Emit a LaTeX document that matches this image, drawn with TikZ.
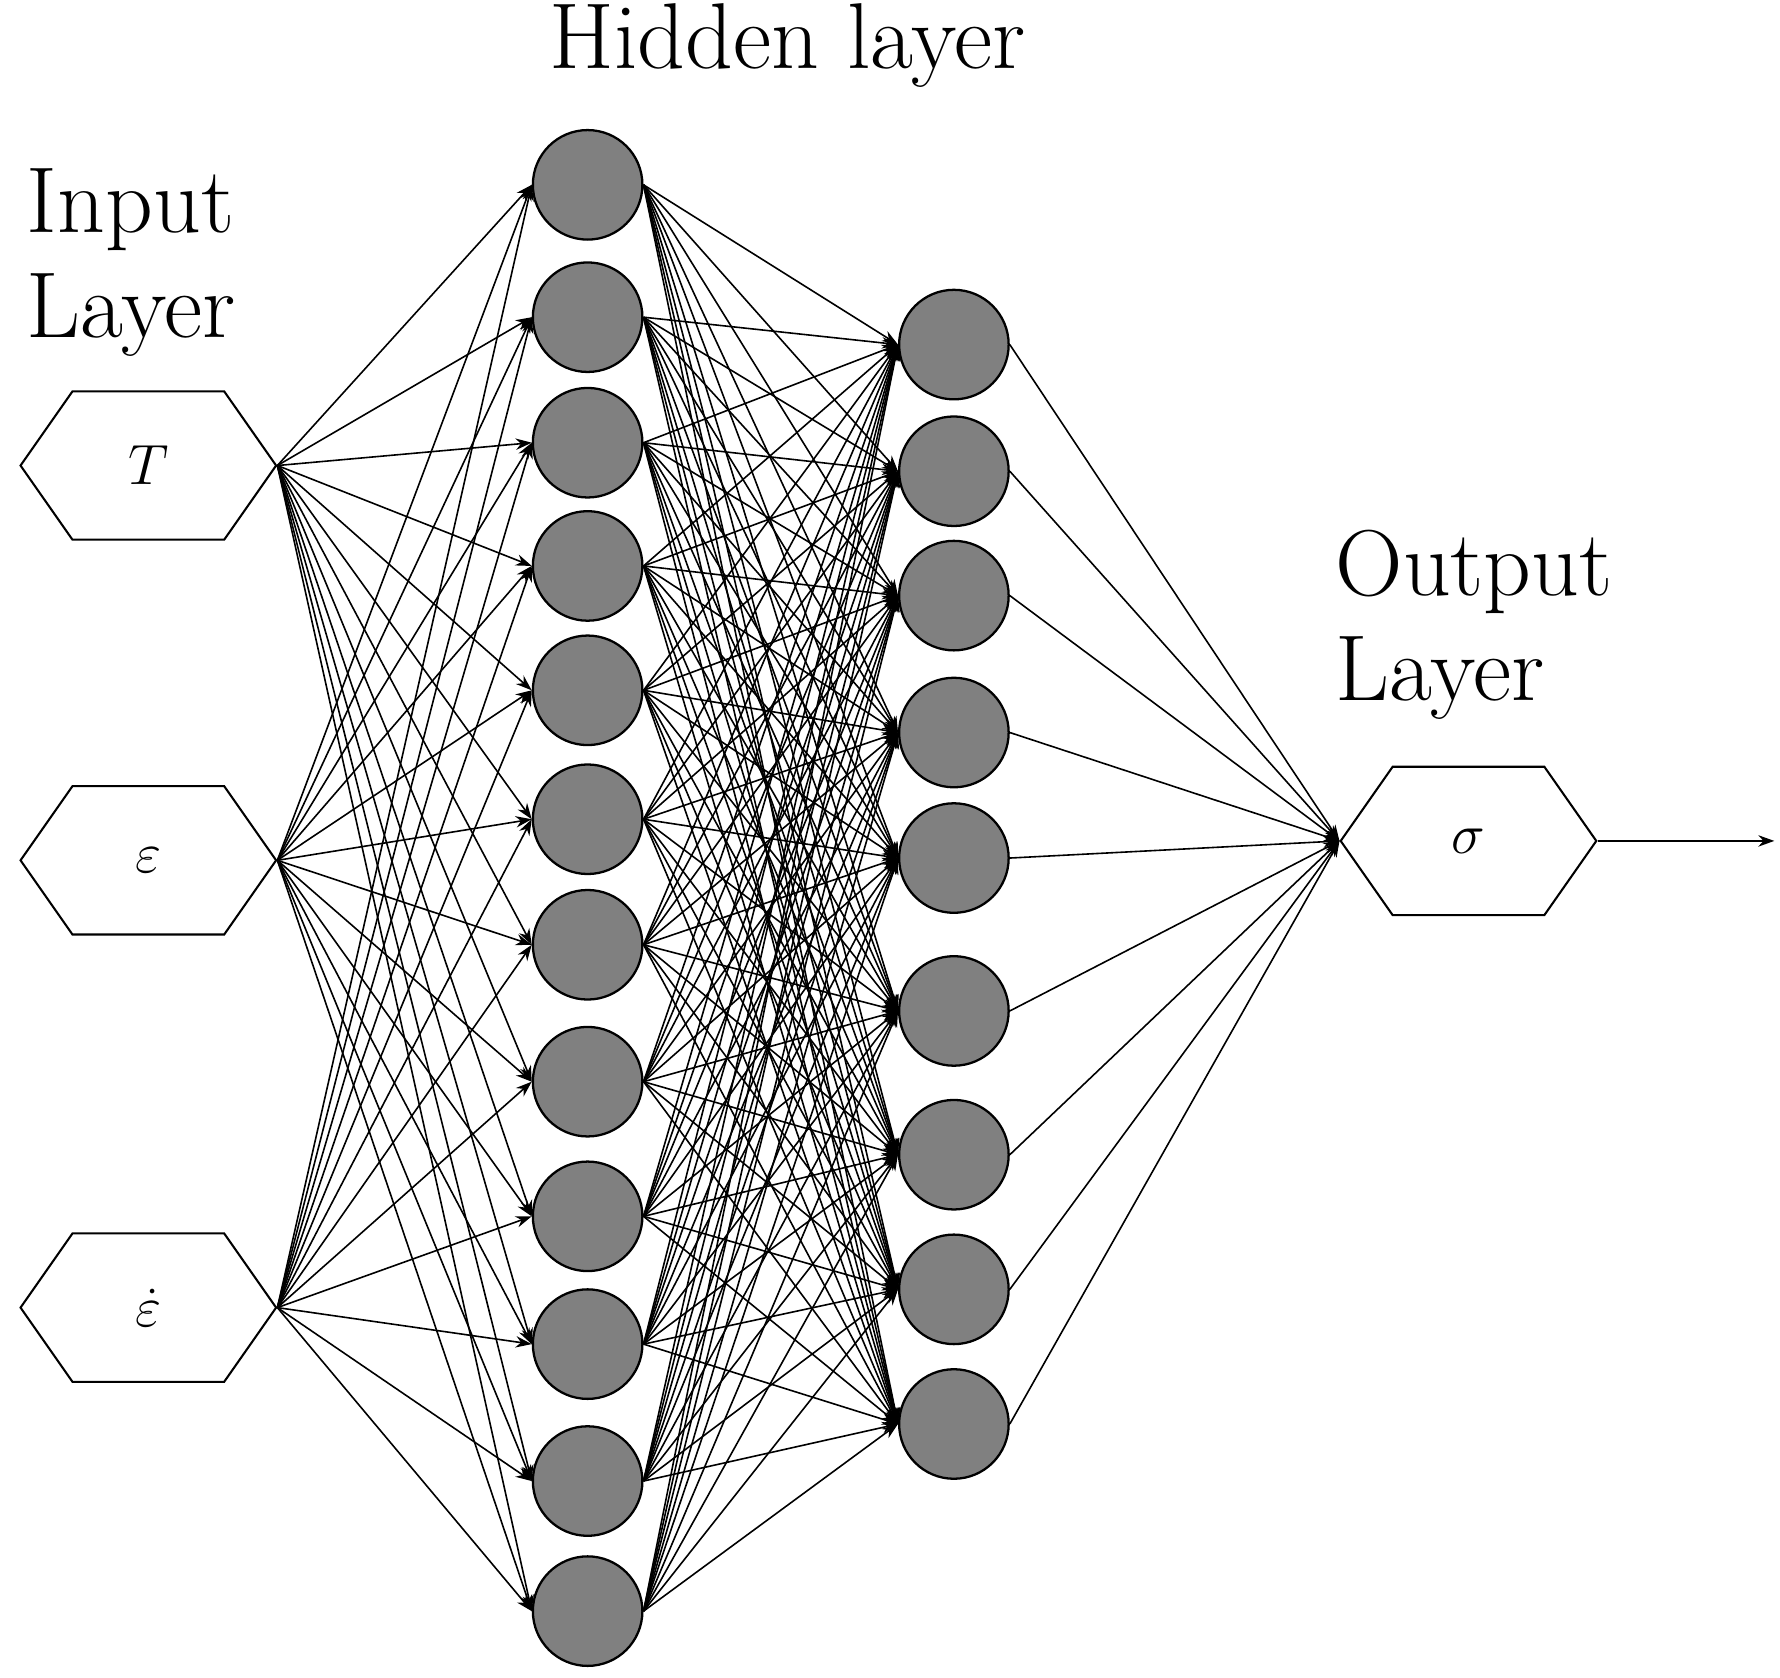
\documentclass[tikz,border=0pt]{standalone}
\usetikzlibrary{shapes.symbols,arrows.meta}
\begin{document}
\begin{tikzpicture}[x=0.5pt,y=-0.5pt,
  neuron/.style={circle,draw,line width=1pt,fill=black!50,minimum size=48pt,inner sep=0},
  hex/.style={signal,signal to=east and west,signal pointer angle=110,draw,line width=0.9pt,minimum width=112pt,minimum height=65pt,inner sep=0,font=\fontsize{30}{34}\selectfont},
  conn/.style={line width=0.7pt,-{Stealth[length=7pt,width=5pt]}},
  lab/.style={font=\fontsize{41}{46}\selectfont,align=left}]
\useasboundingbox (0,0) rectangle (1560,1470);
\node[hex] (i1) at (130,408) {$T$};
\node[hex] (i2) at (130,754) {$\varepsilon$};
\node[hex] (i3) at (130,1146) {$\dot{\varepsilon}$};
\node[hex] (o) at (1287,737) {$\sigma$};
\coordinate (out) at (1555,737);
\foreach \y [count=\i] in {162,278,388,496,605,718,828,948,1066,1178,1298,1412}
  \node[neuron] (h\i) at (515,\y) {};
\foreach \y [count=\i] in {302,413,522,642,752,886,1012,1130,1248}
  \node[neuron] (g\i) at (836,\y) {};
\foreach \a in {1,2,3}
  \foreach \b in {1,...,12}
    \draw[conn] (i\a.east) -- (h\b.west);
\foreach \a in {1,...,12}
  \foreach \b in {1,...,9}
    \draw[conn] (h\a.east) -- (g\b.west);
\foreach \a in {1,...,9}
  \draw[conn] (g\a.east) -- (o.west);
\draw[conn] (o.east) -- (out);
\node[lab] (hl) at (690,40) {Hidden layer};
\node[lab] (il) at (115,230) {Input\\Layer};
\node[lab] (ol) at (1292,548) {Output\\Layer};
\end{tikzpicture}
\end{document}
